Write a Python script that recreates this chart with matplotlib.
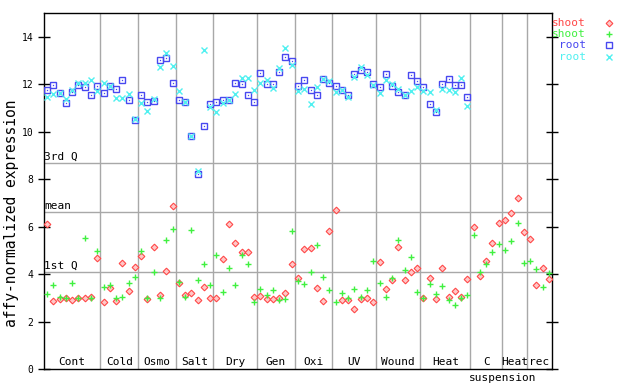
import numpy as np
import matplotlib
matplotlib.use("Agg")
import matplotlib.pyplot as plt
from matplotlib.lines import Line2D

# groups of samples along the x axis
groups = ["Cont", "Cold", "Osmo", "Salt", "Dry", "Gen", "Oxi", "UV",
          "Wound", "Heat", "C", "Heat", "rec"]
group_sizes = [9, 6, 6, 6, 7, 6, 6, 7, 7, 8, 5, 4, 4]

shoot_red = [6.10, 2.86, 2.94, 2.98, 2.90, 2.98, 2.98, 3.03, 4.67,
             2.81, 3.40, 2.86, 4.46, 3.28, 4.29, 4.76, 2.94, 5.14,
             3.11, 4.12, 6.86, 3.62, 3.11, 3.19, 2.90, 3.45, 2.98,
             2.98, 4.63, 6.10, 5.30, 4.92, 4.92, 3.03, 3.07, 2.94,
             2.94, 2.98, 3.19, 4.42, 3.83, 5.05, 5.09, 3.40, 2.86,
             5.81, 6.70, 2.90, 2.90, 2.52, 2.94, 2.98, 2.81, 4.50,
             3.36, 3.74, 5.14, 3.74, 4.08, 4.25, 2.98, 3.83, 2.94,
             4.25, 3.03, 3.28, 3.03, 3.78, 5.98, 3.91, 4.54, 5.30,
             6.15, 6.27, 6.57, 7.20, 5.77, 5.47, 3.53, 4.25, 3.78]
shoot_green = [3.15, 3.53, 3.03, 2.98, 3.62, 2.98, 5.51, 2.98, 4.97,
               3.45, 3.53, 2.98, 3.03, 3.62, 3.87, 4.97, 2.98, 4.08,
               2.98, 5.43, 5.89, 3.66, 3.03, 5.85, 3.74, 4.42, 3.53,
               4.80, 3.24, 4.25, 3.53, 4.80, 4.42, 2.81, 3.36, 3.11,
               3.32, 2.90, 2.94, 5.81, 3.70, 3.57, 4.08, 5.22, 3.87,
               3.32, 2.81, 3.19, 2.98, 3.36, 3.03, 3.32, 4.54, 3.62,
               3.03, 3.83, 5.43, 4.16, 4.71, 3.24, 2.98, 3.57, 3.15,
               3.49, 2.90, 2.69, 2.98, 3.11, 5.64, 4.08, 4.42, 4.92,
               5.26, 5.01, 5.39, 6.15, 4.46, 4.54, 4.21, 3.45, 4.04]
root_blue = [11.76, 11.97, 11.63, 11.21, 11.68, 11.98, 11.89, 11.55, 11.93,
             11.63, 11.93, 11.80, 12.18, 11.34, 10.49, 11.55, 11.25, 11.30,
             13.02, 13.11, 12.05, 11.34, 11.25, 9.83, 8.21, 10.24, 11.17,
             11.25, 11.34, 11.34, 12.05, 12.01, 11.55, 11.25, 12.48, 12.01,
             12.01, 12.52, 13.15, 12.98, 11.93, 12.18, 11.76, 11.55, 12.22,
             12.05, 11.93, 11.76, 11.55, 12.43, 12.60, 12.52, 12.01, 11.89,
             12.43, 11.93, 11.68, 11.55, 12.39, 12.14, 11.89, 11.17, 10.83,
             12.01, 12.22, 11.97, 11.97, 11.46]
root_cyan = [11.46, 11.59, 11.63, 11.38, 11.76, 12.05, 12.05, 12.18, 11.72,
             12.05, 11.93, 11.42, 11.42, 11.59, 10.53, 11.21, 10.87, 11.38,
             12.73, 13.32, 12.77, 11.72, 11.25, 9.83, 8.33, 13.45, 11.04,
             10.83, 11.21, 11.34, 11.59, 12.27, 12.27, 11.76, 12.05, 12.18,
             11.84, 12.69, 13.53, 12.81, 11.72, 11.80, 11.17, 11.89, 12.22,
             12.14, 11.68, 11.76, 11.46, 12.31, 12.73, 12.39, 11.97, 11.63,
             12.18, 12.01, 11.80, 11.55, 11.72, 11.89, 11.72, 11.68, 10.92,
             11.80, 11.76, 11.68, 12.27, 11.08]

# reference lines
q1, mean_val, q3 = 4.08, 6.61, 8.68

RED, GREEN, BLUE, CYAN = "#ff4848", "#40f040", "#4848f0", "#50f0f0"
GRAY = "#a8a8a8"
mono = "DejaVu Sans Mono"

fig = plt.figure(figsize=(6.4, 3.84), dpi=100)
ax = fig.add_axes([44 / 640, 15 / 384, 508 / 640, 356 / 384])

n = len(shoot_red)
ax.set_xlim(-0.5, n - 0.5)
ax.set_ylim(0, 15)

# group separators
bounds = np.cumsum(group_sizes) - 0.5
for b in bounds[:-1]:
    ax.axvline(b, color=GRAY, lw=1.0, zorder=1)

for val, lab in [(q3, "3rd Q"), (mean_val, "mean"), (q1, "1st Q")]:
    ax.axhline(val, color=GRAY, lw=1.0, zorder=1)
    ax.text(-0.45, val + 0.05, lab, family=mono, fontsize=8, va="bottom", ha="left")

starts = np.concatenate([[-0.5], bounds[:-1]])
for name, s, b in zip(groups, starts, bounds):
    ax.text((s + b) / 2, 0.08, name, family=mono, fontsize=8, ha="center", va="bottom")
c_idx = groups.index("C")
ax.text(starts[c_idx] - 0.2, -0.15, "suspension", family=mono, fontsize=8,
        ha="left", va="top", clip_on=False)

x_sh = np.arange(len(shoot_red))
x_rt = np.arange(len(root_blue))
ax.plot(x_sh, shoot_red, ls="none", marker="D", ms=3.4, mfc="#ffc8c8", mec=RED, mew=0.8, zorder=3)
ax.plot(x_sh, shoot_green, ls="none", marker="+", ms=5, mec=GREEN, mew=1.0, zorder=3)
ax.plot(x_rt, root_blue, ls="none", marker="s", ms=4.4, mfc="none", mec=BLUE, mew=1.0, zorder=3)
ax.plot(x_rt, root_blue, ls="none", marker="s", ms=0.9, mfc=BLUE, mec=BLUE, mew=0, zorder=3)
ax.plot(x_rt, root_cyan, ls="none", marker="x", ms=4.2, mec=CYAN, mew=1.0, zorder=3)

ax.set_xticks([])
ax.set_yticks(range(0, 15, 2))
ax.tick_params(axis="y", direction="inout", length=8, width=1, labelsize=7,
               right=True, labelfontfamily=mono)
for sp in ax.spines.values():
    sp.set_linewidth(1.0)

fig.text(12 / 640, 1 - 213 / 384, "affy-normalized expression", family=mono, fontsize=10.5,
         rotation=90, ha="center", va="center")

# legend drawn by hand at the upper right, text right aligned
leg = [("shoot", RED, dict(marker="D", ms=3.4, mfc="#ffc8c8", mec=RED, mew=0.8)),
       ("shoot", GREEN, dict(marker="+", ms=5, mec=GREEN, mew=1.0)),
       ("root", BLUE, dict(marker="s", ms=4.4, mfc="none", mec=BLUE, mew=1.0)),
       ("root", CYAN, dict(marker="x", ms=4.2, mec=CYAN, mew=1.0))]
for k, (lab, col, mk) in enumerate(leg):
    ypx = 23 + k * 11.2
    fig.text(586 / 640, 1 - ypx / 384, lab, family=mono, fontsize=8, color=col,
             ha="right", va="center")
    fig.add_artist(Line2D([609 / 640], [1 - ypx / 384], transform=fig.transFigure,
                          ls="none", **mk))

fig.savefig("out.png", dpi=100)
